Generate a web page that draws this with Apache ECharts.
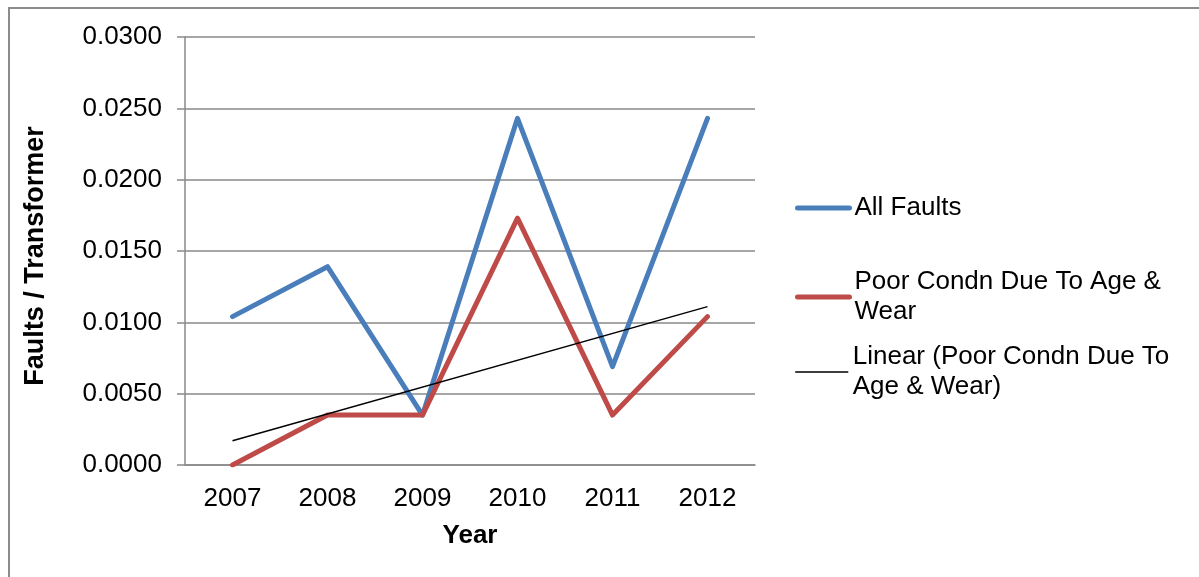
<!DOCTYPE html>
<html>
<head>
<meta charset="utf-8">
<script src="https://cdn.jsdelivr.net/npm/echarts@6/dist/echarts.min.js"></script>
<style>
  html, body { margin: 0; padding: 0; background: #fff; }
  #chart { width: 1199px; height: 577px; }
</style>
</head>
<body>
<div id="chart"></div>
<script>
// Faults per transformer, by year
const years = ['2007', '2008', '2009', '2010', '2011', '2012'];
const allFaults = [0.0104, 0.0139, 0.0035, 0.0243, 0.0069, 0.0243];
const poorCondn = [0.0000, 0.0035, 0.0035, 0.0173, 0.0035, 0.0104];
// Linear trend of the poor-condition series: value at first and last year
const trendEnds = [0.0017, 0.0111];
const trendLine = years.map((y, i) => i === 0 ? trendEnds[0] : (i === years.length - 1 ? trendEnds[1] : null));

const seriesNames = [
  'All Faults',
  'Poor Condn Due To Age & Wear',
  'Linear (Poor Condn Due To Age & Wear)'
];
const legendLabels = {
  'All Faults': 'All Faults',
  'Poor Condn Due To Age & Wear': 'Poor Condn Due To Age &\nWear',
  'Linear (Poor Condn Due To Age & Wear)': 'Linear (Poor Condn Due To\nAge & Wear)'
};

const FONT = 'Liberation Sans, Arial, sans-serif';
const FS = 26;
const LH = 30;
const gridColor = '#898989';
const blue = '#4a7ebb';
const red = '#be4b48';

function legendAt(name, top, lines, lineWidth) {
  return {
    data: [name],
    orient: 'vertical',
    left: 795,
    top: top,
    padding: 0,
    itemWidth: 52,
    itemHeight: 14,
    itemGap: 0,
    selectedMode: false,
    formatter: n => legendLabels[n],
    itemStyle: { opacity: 0 },
    lineStyle: { width: lineWidth, cap: 'round' },
    textStyle: {
      fontFamily: FONT,
      fontSize: FS,
      lineHeight: LH,
      color: '#000',
      padding: lines > 1 ? [LH * (lines - 1), 0, 0, 0] : 0
    }
  };
}

const chart = echarts.init(document.getElementById('chart'), null, { renderer: 'canvas' });
chart.setOption({
  animation: false,
  backgroundColor: '#fff',
  textStyle: { fontFamily: FONT },
  graphic: [{
    type: 'rect',
    shape: { x: 9, y: 8, width: 1400, height: 800 },
    style: { fill: 'none', stroke: '#8c8c8c', lineWidth: 2 },
    silent: true,
    z: 0
  }],
  grid: { left: 185, right: 444, top: 37, bottom: 112, containLabel: false },
  legend: [
    legendAt(seriesNames[0], 193, 1, 5),
    legendAt(seriesNames[1], 252, 2, 5),
    legendAt(seriesNames[2], 327, 2, 1.5)
  ],
  xAxis: {
    type: 'category',
    data: years,
    boundaryGap: true,
    name: 'Year',
    nameLocation: 'middle',
    nameGap: 58,
    nameTextStyle: { fontFamily: FONT, fontSize: FS, fontWeight: 'bold', color: '#000' },
    axisLine: { show: true, lineStyle: { color: gridColor, width: 1.5 } },
    axisTick: { show: false },
    axisLabel: { fontFamily: FONT, fontSize: FS, color: '#000', margin: 21 },
    splitLine: { show: false }
  },
  yAxis: {
    type: 'value',
    min: 0,
    max: 0.03,
    interval: 0.005,
    name: 'Faults / Transformer',
    nameLocation: 'middle',
    nameGap: 136,
    nameRotate: 90,
    nameTextStyle: {
      fontFamily: FONT, fontSize: 27, fontWeight: 'bold', color: '#000',
      padding: [0, 10, 0, 0]
    },
    axisLine: { show: true, lineStyle: { color: gridColor, width: 1.5 } },
    axisTick: { show: true, length: 8, lineStyle: { color: gridColor, width: 1.5 } },
    axisLabel: {
      fontFamily: FONT, fontSize: FS, color: '#000', margin: 23,
      formatter: v => v.toFixed(4)
    },
    splitLine: { show: true, lineStyle: { color: gridColor, width: 1.5 } }
  },
  series: [
    {
      name: seriesNames[0],
      type: 'line',
      data: allFaults,
      symbol: 'none',
      lineStyle: { color: blue, width: 5, cap: 'round', join: 'round' },
      itemStyle: { color: blue },
      z: 2
    },
    {
      name: seriesNames[1],
      type: 'line',
      data: poorCondn,
      symbol: 'none',
      lineStyle: { color: red, width: 5, cap: 'round', join: 'round' },
      itemStyle: { color: red },
      z: 3
    },
    {
      name: seriesNames[2],
      type: 'line',
      data: trendLine,
      connectNulls: true,
      symbol: 'none',
      lineStyle: { color: '#000', width: 1.5 },
      itemStyle: { color: '#000' },
      z: 4
    }
  ]
});
</script>
</body>
</html>
